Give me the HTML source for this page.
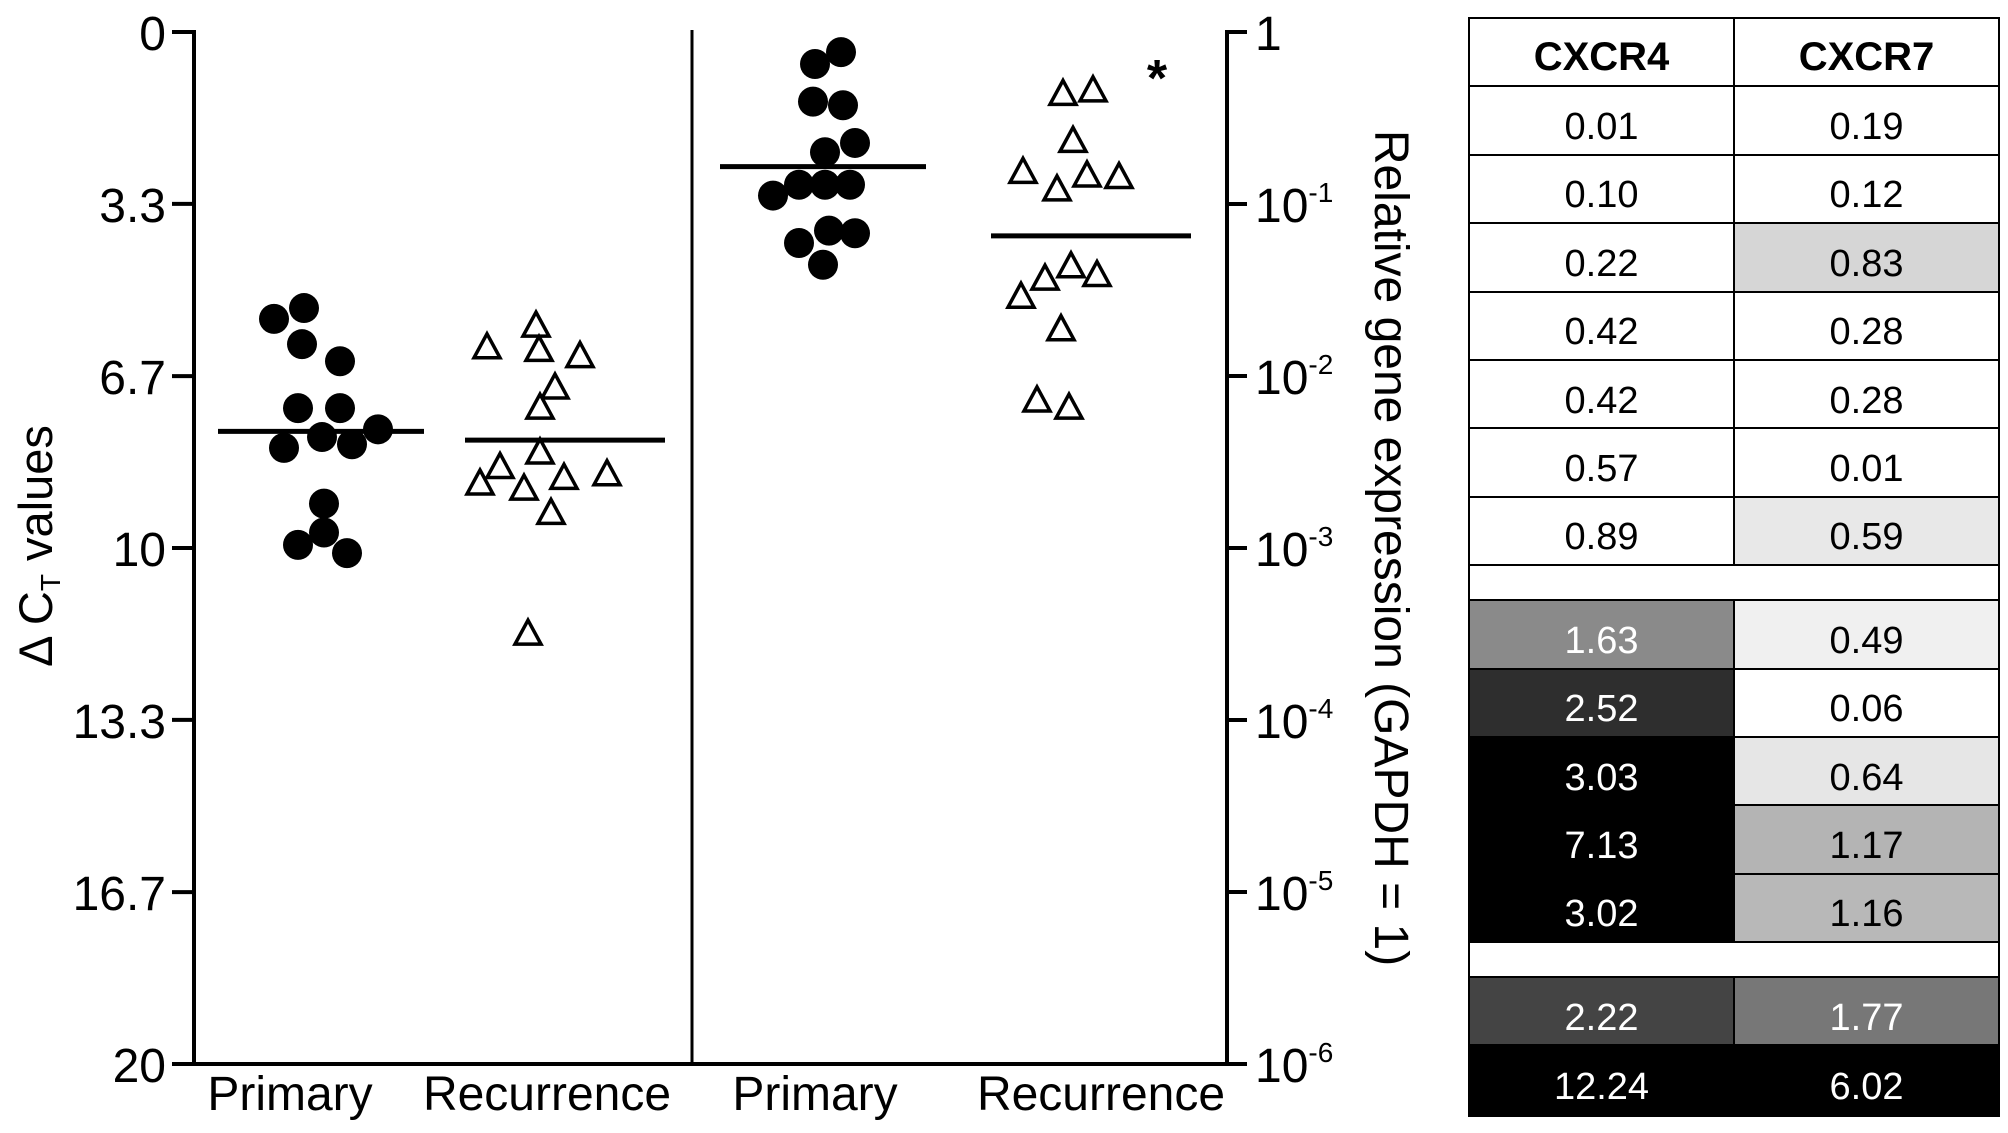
<!DOCTYPE html>
<html><head><meta charset="utf-8"><style>
body{margin:0;background:#fff;width:2008px;height:1133px;overflow:hidden;font-family:"Liberation Sans",Arial,sans-serif}
#chart{position:absolute;left:0;top:0}
#tbl{position:absolute;left:1468px;top:17px;width:532px;border:2px solid #000;box-sizing:border-box}
.r{display:flex;height:68.4px;border-bottom:2px solid #000;box-sizing:border-box}
.r:last-child{border-bottom:none}
.c{flex:1;display:flex;align-items:center;justify-content:center;font-size:38px;padding-top:14px;box-sizing:border-box}
.c:first-child{border-right:2px solid #000}
.h .c{font-weight:bold;font-size:40px;padding-top:10px}
.gap{height:35px;border-bottom:2px solid #000;box-sizing:border-box}
.w{color:#fff}
</style></head><body>
<svg id="chart" width="1460" height="1133" xmlns="http://www.w3.org/2000/svg"></svg>
<div id="tbl">
<div class="r h"><div class="c">CXCR4</div><div class="c">CXCR7</div></div>
<div class="r"><div class="c">0.01</div><div class="c">0.19</div></div>
<div class="r"><div class="c">0.10</div><div class="c">0.12</div></div>
<div class="r"><div class="c">0.22</div><div class="c" style="background:#d6d6d6">0.83</div></div>
<div class="r"><div class="c">0.42</div><div class="c">0.28</div></div>
<div class="r"><div class="c">0.42</div><div class="c">0.28</div></div>
<div class="r"><div class="c">0.57</div><div class="c">0.01</div></div>
<div class="r"><div class="c">0.89</div><div class="c" style="background:#e8e8e8">0.59</div></div>
<div class="gap"></div>
<div class="r"><div class="c w" style="background:#8a8a8a">1.63</div><div class="c" style="background:#f0f0f0">0.49</div></div>
<div class="r"><div class="c w" style="background:#2e2e2e">2.52</div><div class="c">0.06</div></div>
<div class="r"><div class="c w" style="background:#000">3.03</div><div class="c" style="background:#e6e6e6">0.64</div></div>
<div class="r"><div class="c w" style="background:#000">7.13</div><div class="c" style="background:#b4b4b4">1.17</div></div>
<div class="r"><div class="c w" style="background:#000">3.02</div><div class="c" style="background:#b8b8b8">1.16</div></div>
<div class="gap"></div>
<div class="r"><div class="c w" style="background:#444">2.22</div><div class="c w" style="background:#777">1.77</div></div>
<div class="r"><div class="c w" style="background:#000">12.24</div><div class="c w" style="background:#000">6.02</div></div>
</div>
<script>
const categories=["Primary","Recurrence","Primary","Recurrence"];
const leftPrimary=[5.56,5.35,6.05,6.38,7.29,7.29,8.06,7.85,7.99,7.70,9.14,9.94,9.70,10.10];
const leftRecurrence=[6.12,5.70,6.17,6.29,6.90,7.29,8.44,8.16,8.76,8.86,8.65,8.58,9.33,11.67];
const rightPrimary=[0.39,0.62,1.35,1.42,2.15,2.33,3.17,2.96,2.96,2.96,4.09,3.85,3.90,4.51];
const rightRecurrence=[1.21,1.14,2.12,2.72,3.06,2.79,2.82,4.55,4.79,4.72,5.14,5.77,7.15,7.29];
const medians=[7.74,7.91,2.61,3.95];
const jitter1=[-47,-17,-19,19,-23,19,-37,1,31,57,3,-23,3,26];
const jitter2=[-78,-29,-26,15,-10,-25,-65,-25,-85,-41,-1,42,-14,-37];
const jitter3=[18,-8,-10,20,32,2,-50,-24,2,27,-24,6,32,0];
const jitter4=[-28,2,-18,-68,-34,-4,28,-20,-46,6,-70,-30,-54,-22];
const leftTicks=["0","3.3","6.7","10","13.3","16.7","20"];
const leftTickVals=[0,3.33,6.67,10,13.33,16.67,20];
const rightExps=[0,-1,-2,-3,-4,-5,-6];

const svg=document.getElementById('chart');
const NS='http://www.w3.org/2000/svg';
const X0=194,X1=1227,XM=692,Y0=32,Y1=1064;
const y=v=>Y0+v/20*(Y1-Y0);
const yLog=e=>Y0+(-e)/6*(Y1-Y0);
const centers=[321,565,823,1091];
const labelX=[290,547,815,1101];
function mk(tag,attrs,name,txt){const e=document.createElementNS(NS,tag);for(const k in attrs)e.setAttribute(k,attrs[k]);


if(txt!==undefined)e.textContent=txt;svg.appendChild(e);return e;}
mk('line',{x1:X0,y1:Y0-2,x2:X0,y2:Y1+2,stroke:'#000','stroke-width':4},'left-y-axis');
mk('line',{x1:X1,y1:Y0-2,x2:X1,y2:Y1+2,stroke:'#000','stroke-width':4},'right-y-axis');
mk('line',{x1:XM,y1:Y0-2,x2:XM,y2:Y1,stroke:'#000','stroke-width':3},'panel-divider');
mk('line',{x1:X0-22,y1:Y1,x2:X1+20,y2:Y1,stroke:'#000','stroke-width':4},'x-axis');
leftTicks.forEach((t,i)=>{const yy=y(leftTickVals[i]);
mk('line',{x1:X0-22,y1:yy,x2:X0,y2:yy,stroke:'#000','stroke-width':4},'left-tick');
mk('text',{x:X0-28,y:yy+18,'text-anchor':'end','font-size':48,fill:'#000'},'left-tick-label',t);});
rightExps.forEach(e=>{const yy=yLog(e);
mk('line',{x1:X1,y1:yy,x2:X1+20,y2:yy,stroke:'#000','stroke-width':4},'right-tick');
const t=mk('text',{x:X1+28,y:yy+18,'font-size':48,fill:'#000'},'right-tick-label');
if(e===0)t.textContent='1';else{t.textContent='10';const s=document.createElementNS(NS,'tspan');s.setAttribute('dy','-20');s.setAttribute('font-size','28');s.textContent=String(e);t.appendChild(s);}});
mk('text',{transform:'translate(52,546) rotate(-90)','text-anchor':'middle','font-size':47,fill:'#000'},'left-y-axis-title','Δ C\u209C values').innerHTML='Δ C<tspan font-size="28" dy="8">T</tspan><tspan dy="-8"> values</tspan>';
mk('text',{transform:'translate(1375,548) rotate(90)','text-anchor':'middle','font-size':48,fill:'#000'},'right-y-axis-title','Relative gene expression (GAPDH = 1)');
categories.forEach((c,i)=>mk('text',{x:labelX[i],y:1110,'text-anchor':'middle','font-size':48,fill:'#000'},'x-category-label',c));
const groups=[[leftPrimary,jitter1,'c'],[leftRecurrence,jitter2,'t'],[rightPrimary,jitter3,'c'],[rightRecurrence,jitter4,'t']];
groups.forEach((g,gi)=>{g[0].forEach((v,i)=>{const cx=centers[gi]+g[1][i],cy=y(v);
if(g[2]==='c')mk('circle',{cx:cx,cy:cy,r:15,fill:'#000'},'primary-point');
else mk('polygon',{points:`${cx},${cy-14} ${cx+13},${cy+10} ${cx-13},${cy+10}`,fill:'#fff',stroke:'#000','stroke-width':3.5},'recurrence-point');});
const hw=gi%2===0?103:100;
mk('line',{x1:centers[gi]-hw,y1:y(medians[gi]),x2:centers[gi]+hw,y2:y(medians[gi]),stroke:'#000','stroke-width':5},'median-line');});
mk('text',{x:1157,y:96,'text-anchor':'middle','font-size':52,'font-weight':'bold',fill:'#000'},'significance-asterisk','*');
</script>
</body></html>
